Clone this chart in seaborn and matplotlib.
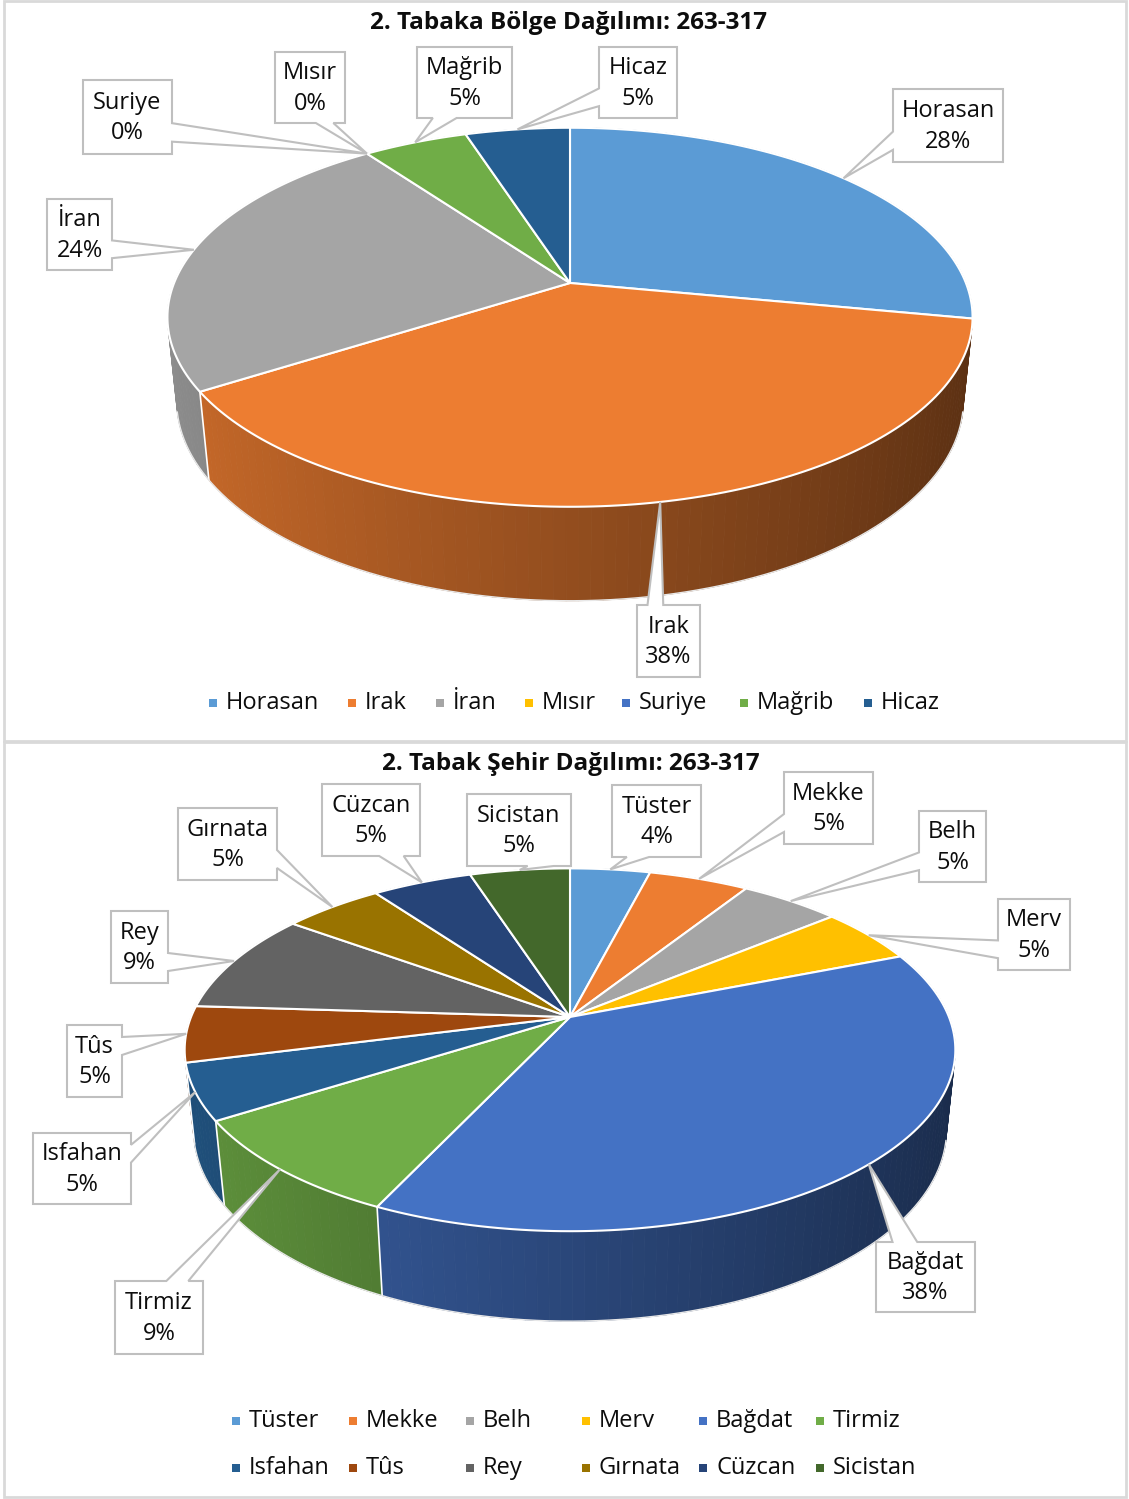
import numpy as np
import matplotlib
matplotlib.use("Agg")
import matplotlib.pyplot as plt
import seaborn as sns
from matplotlib.collections import PolyCollection
from matplotlib.patches import Polygon, Rectangle

# ---- data ----
bolge_names = ["Horasan", "Irak", "İran", "Mısır", "Suriye", "Mağrib", "Hicaz"]
bolge_values = [28, 38, 24, 0, 0, 5, 5]
bolge_colors = ["#5B9BD5", "#ED7D31", "#A5A5A5", "#FFC000", "#4472C4", "#70AD47", "#255E91"]

sehir_names = ["Tüster", "Mekke", "Belh", "Merv", "Bağdat", "Tirmiz",
               "Isfahan", "Tûs", "Rey", "Gırnata", "Cüzcan", "Sicistan"]
sehir_values = [4, 5, 5, 5, 38, 9, 5, 5, 9, 5, 5, 5]
sehir_colors = ["#5B9BD5", "#ED7D31", "#A5A5A5", "#FFC000", "#4472C4", "#70AD47",
                "#255E91", "#9E480E", "#636363", "#997300", "#264478", "#43682B"]

title1 = "2. Tabaka Bölge Dağılımı: 263-317"
title2 = "2. Tabak Şehir Dağılımı: 263-317"

# ---- layout (pixel coords, y down) ----
bolge_boxes = [(893, 89, 1003, 162), (637, 605, 700, 677), (47, 199, 112, 270),
               (275, 52, 345, 123), (83, 80, 172, 154), (417, 47, 512, 118),
               (599, 47, 677, 118)]
sehir_boxes = [(612, 785, 701, 857), (784, 772, 873, 844), (919, 811, 986, 882),
               (998, 899, 1070, 970), (876, 1242, 975, 1312), (115, 1281, 203, 1354),
               (33, 1133, 131, 1204), (67, 1025, 122, 1097), (111, 911, 168, 983),
               (178, 808, 277, 880), (322, 784, 420, 856), (467, 794, 571, 866)]
bolge_leg_x = [213, 352, 440, 529, 626, 744, 868]
sehir_leg_x = [236, 353, 470, 586, 703, 820]

# camera: elevation, distance, pie depth
SIN_E, COS_E, L, H = 0.463, 0.886, 4.9, 0.24

sns.set_theme(style="white")
plt.rcParams['font.family'] = ['Open Sans', 'DejaVu Sans']

fig = plt.figure(figsize=(11.29, 14.99), dpi=100)
ax = fig.add_axes([0, 0, 1, 1])
ax.set_xlim(0, 1129)
ax.set_ylim(1499, 0)
ax.axis('off')


def project(theta, z, cx, cy, f):
    t = np.radians(theta)
    X, Y = np.cos(t), np.sin(t)
    den = L + Y * COS_E - z * SIN_E
    return cx + f * X / den, cy - f * (Y * SIN_E + z * COS_E) / den


def shade(color, theta):
    k = np.clip(0.62 - 0.24 * np.cos(np.radians(theta)), 0.3, 1.0)
    rgb = np.array(matplotlib.colors.to_rgb(color))
    return tuple(rgb * k)


def draw_pie(values, colors, cx, cy, f):
    vals = np.array(values, dtype=float)
    bounds = 90 - 360 * np.concatenate([[0], np.cumsum(vals) / vals.sum()])
    quads, qcol, keys = [], [], []
    for i, c in enumerate(colors):
        a0, a1 = bounds[i], bounds[i + 1]
        if a0 == a1:
            continue
        n = max(int(abs(a0 - a1) / 1.5), 2)
        phis = np.linspace(a0, a1, n + 1)
        for p0, p1 in zip(phis[:-1], phis[1:]):
            tx0, ty0 = project(p0, 0, cx, cy, f)
            tx1, ty1 = project(p1, 0, cx, cy, f)
            bx0, by0 = project(p0, -H, cx, cy, f)
            bx1, by1 = project(p1, -H, cx, cy, f)
            quads.append([(tx0, ty0), (tx1, ty1), (bx1, by1), (bx0, by0)])
            pm = (p0 + p1) / 2
            qcol.append(shade(c, pm))
            keys.append(np.sin(np.radians(pm)))
    order = np.argsort(keys)[::-1]
    pc = PolyCollection([quads[j] for j in order], facecolors=[qcol[j] for j in order],
                        edgecolors=[qcol[j] for j in order], linewidths=0.6)
    ax.add_collection(pc)
    # visible slice boundaries on the wall
    lim = -1 / (L * COS_E)
    for b in bounds:
        if np.sin(np.radians(b)) < lim:
            x0, y0 = project(b, 0, cx, cy, f)
            x1, y1 = project(b, -H, cx, cy, f)
            ax.plot([x0, x1], [y0, y1], color="white", lw=1.2)
    # bottom outline (visible part only)
    a_lim = np.degrees(np.arcsin(lim))
    ph = np.linspace(-180 - a_lim, a_lim, 200)
    bx, by = project(ph, -H, cx, cy, f)
    ax.plot(bx, by, color="#E8E8E8", lw=1.0)
    # top faces
    for i, c in enumerate(colors):
        a0, a1 = bounds[i], bounds[i + 1]
        if a0 == a1:
            continue
        phis = np.linspace(a0, a1, max(int(abs(a0 - a1)), 2) + 1)
        xs, ys = project(phis, 0, cx, cy, f)
        pts = [(cx, cy)] + list(zip(xs, ys))
        ax.add_patch(Polygon(pts, closed=True, facecolor=c, edgecolor="white", lw=1.5,
                             joinstyle="round"))
    mids = (bounds[:-1] + bounds[1:]) / 2
    return [project(m, 0, cx, cy, f) for m in mids]


def callout(l, t, r, b, xp, yp):
    # rectangular callout with a wedge pointing at (xp, yp)
    w, h = r - l, b - t
    hc, vc = (l + r) / 2, (t + b) / 2
    dx, dy = xp - hc, yp - vc
    dq = dx * h / w
    dz = abs(dy) - abs(dq)
    x1 = l + w * (7 if dx > 0 else 2) / 12
    x2 = l + w * (10 if dx > 0 else 5) / 12
    y1 = t + h * (7 if dy > 0 else 2) / 12
    y2 = t + h * (10 if dy > 0 else 5) / 12
    if dz > 0:
        xl, yl = l, y1
        xr, yr = r, y1
        xt, yt = (x1, t) if dy > 0 else (xp, yp)
        xb, yb = (xp, yp) if dy > 0 else (x1, b)
    else:
        xt, yt = x1, t
        xb, yb = x1, b
        xl, yl = (l, y1) if dx > 0 else (xp, yp)
        xr, yr = (xp, yp) if dx > 0 else (r, y1)
    return [(l, t), (x1, t), (xt, yt), (x2, t), (r, t), (r, y1), (xr, yr), (r, y2),
            (r, b), (x2, b), (xb, yb), (x1, b), (l, b), (l, y2), (xl, yl), (l, y1)]


def draw_labels(names, values, boxes, tips):
    total = float(sum(values))
    for name, v, box, tip in zip(names, values, boxes, tips):
        l, t, r, b = box
        pts = callout(l, t, r, b, tip[0], tip[1])
        ax.add_patch(Polygon(pts, closed=True, facecolor="white", edgecolor="#BFBFBF",
                             lw=1.5, zorder=5))
        ax.text((l + r) / 2, (t + b) / 2 + 1, f"{name}\n{round(v / total * 100):.0f}%",
                ha="center", va="center", fontsize=17, linespacing=1.37,
                color="#0D0D0D", zorder=6)


def draw_legend(names, colors, xs, ys):
    for i, (name, c) in enumerate(zip(names, colors)):
        x = xs[i % len(xs)]
        y = ys[i // len(xs)]
        ax.add_patch(Rectangle((x - 4, y - 4), 8, 8, facecolor=c, edgecolor="none"))
        ax.text(x + 13, y, name, ha="left", va="center", fontsize=17, color="#0D0D0D")


# panel frames
ax.add_patch(Rectangle((4, 1), 1122, 740, fill=False, edgecolor="#D9D9D9", lw=2))
ax.add_patch(Rectangle((4, 742), 1122, 755, fill=False, edgecolor="#D9D9D9", lw=2))

ax.text(569, 23, title1, ha="center", va="center", fontsize=17.5, fontweight="bold",
        color="#0D0D0D")
ax.text(571, 764, title2, ha="center", va="center", fontsize=17.5, fontweight="bold",
        color="#0D0D0D")

tips1 = draw_pie(bolge_values, bolge_colors, 570, 283, 1940)
draw_labels(bolge_names, bolge_values, bolge_boxes, tips1)
draw_legend(bolge_names, bolge_colors, bolge_leg_x, [703])

tips2 = draw_pie(sehir_values, sehir_colors, 570, 1017, 1857)
draw_labels(sehir_names, sehir_values, sehir_boxes, tips2)
draw_legend(sehir_names, sehir_colors, sehir_leg_x, [1421, 1468])

fig.savefig("out.png", dpi=100, facecolor="white")
